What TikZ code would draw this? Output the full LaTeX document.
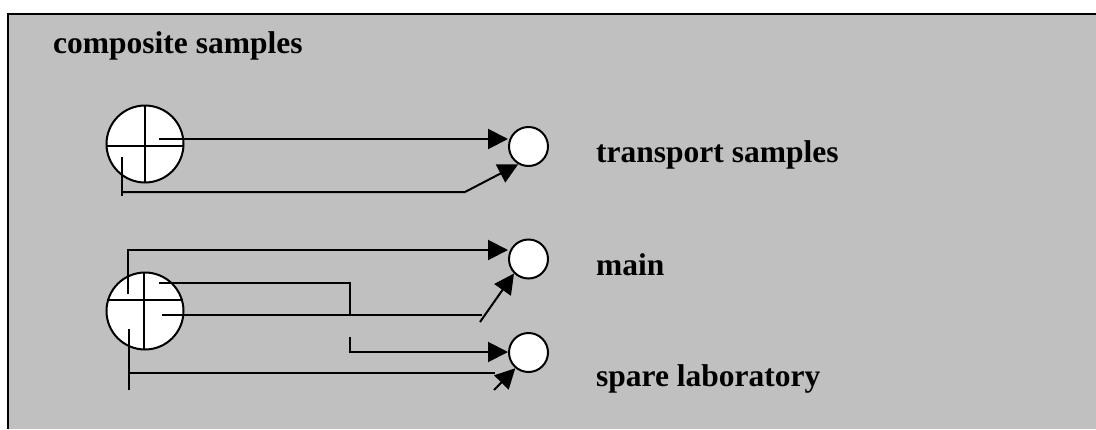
\documentclass[tikz,border=0pt]{standalone}
\usepackage{fontspec}
\setmainfont{Liberation Serif}
\usetikzlibrary{arrows.meta}
\definecolor{panelgray}{RGB}{192,192,192}
\tikzset{
  ln/.style={line width=2pt, line cap=butt},
  arr/.style={ln, -{Triangle[length=20pt,width=20pt]}},
  bigcirc/.style={circle, draw, line width=2pt, fill=white, minimum size=77pt, inner sep=0pt},
  smallcirc/.style={circle, draw, line width=2pt, fill=white, minimum size=39pt, inner sep=0pt},
  lbl/.style={anchor=base west, inner sep=0pt, font=\bfseries\fontsize{31.5}{36}\selectfont}
}
\begin{document}
\begin{tikzpicture}[x=1pt,y=-1pt]
\useasboundingbox (0,0) rectangle (1096,429);
\fill[white] (0,0) rectangle (1096,429);
\fill[panelgray] (8,14) rectangle (1096,429);
\draw[line width=2pt] (8,429) -- (8,14) -- (1096,14);

% labels
\node[lbl] (tcomp) at (53,53) {composite samples};
\node[lbl] (ttrans) at (596,162) {transport samples};
\node[lbl] (tmain) at (596,275) {main};
\node[lbl] (tspare) at (596,386) {spare laboratory};

% circles
\node[bigcirc] (c1) at (145,144) {};
\node[bigcirc] (c2) at (145,311) {};
\node[smallcirc] (t1) at (528.5,146.5) {};
\node[smallcirc] (m) at (528.5,259) {};
\node[smallcirc] (s) at (528.5,352.5) {};

% crosses
\draw[ln] (107,146) -- (183,146);
\draw[ln] (145,106) -- (145,182);
\draw[ln] (107,300) -- (183,300);
\draw[ln] (144,273) -- (144,349);

% group 1 coordinates
\coordinate (a1) at (159,139);
\coordinate (b1top) at (122,157);
\coordinate (b1bot) at (122,196);
\coordinate (b1h) at (122,192);
\coordinate (b1e) at (465,192);

\draw[arr] (a1) -- (a1 -| t1.west);
\draw[ln] (b1top) -- (b1bot);
\draw[arr] (b1h) -- (b1e) -- (t1.240);

% group 2 coordinates
\coordinate (p1) at (128,294);
\coordinate (p1c) at (128,250);
\coordinate (p2) at (159,283);
\coordinate (p2c) at (350,283);
\coordinate (p2e) at (350,315);
\coordinate (p3) at (162,315);
\coordinate (p3e) at (482,315);
\coordinate (p3d) at (480,322);
\coordinate (p4) at (350,337);
\coordinate (p4c) at (350,352);
\coordinate (p5top) at (129,329);
\coordinate (p5bot) at (129,390);
\coordinate (p5h) at (129,373);
\coordinate (p5e) at (495,373);
\coordinate (p5d) at (494,390);

\draw[arr] (p1) -- (p1c) -- (p1c -| m.west);
\draw[ln] (p2) -- (p2c) -- (p2e);
\draw[ln] (p3) -- (p3e);
\draw[arr] (p3d) -- (m.225);
\draw[arr] (p4) -- (p4c) -- (p4c -| s.west);
\draw[ln] (p5top) -- (p5bot);
\draw[ln] (p5h) -- (p5e);
\draw[arr] (p5d) -- (s.230);
\end{tikzpicture}
\end{document}
